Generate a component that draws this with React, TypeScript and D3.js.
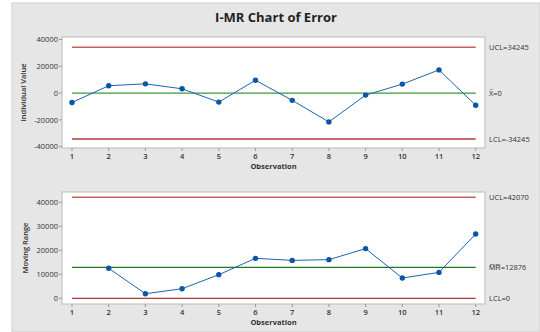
import React from 'react'
import * as d3 from 'd3'

const observations = [1, 2, 3, 4, 5, 6, 7, 8, 9, 10, 11, 12]
const individualValues = [-7000, 5500, 6900, 3200, -6700, 9600, -5400, -21500, -1500, 6700, 17300, -9100]
const movingRanges = [null, 12500, 1900, 4000, 9850, 16650, 15800, 16100, 20700, 8450, 10800, 26800]
const iTicks = [-40000, -20000, 0, 20000, 40000]
const mrTicks = [0, 10000, 20000, 30000, 40000]
const iLimits = { ucl: 34245, center: 0, lcl: -34245 }
const mrLimits = { ucl: 42070, center: 12876, lcl: 0 }

const W = 540
const H = 332
const left = 62
const right = 485
const font = "'Open Sans', sans-serif"

const x = d3.scaleLinear().domain([1, 12]).range([72, 475.7])

function Panel(props: any) {
  const { top, bottom, y, ticks, values, limits, yLabel, labels } = props
  const line = d3.line<any>()
    .defined((d) => d != null)
    .x((d, i) => x(observations[i]))
    .y((d) => y(d))
  return (
    <g>
      <rect x={left} y={top} width={right - left} height={bottom - top} fill="#fff" stroke="#c4c4c4" strokeWidth={1.2} />
      {ticks.map((t: number) => (
        <g key={t}>
          <line x1={left - 3} x2={left} y1={y(t)} y2={y(t)} stroke="#999" />
          <text x={left - 4} y={y(t)} dy="0.35em" textAnchor="end" fontSize={7.5} fontFamily={font} fill="#333">{t}</text>
        </g>
      ))}
      {observations.map((o) => (
        <g key={o}>
          <line x1={x(o)} x2={x(o)} y1={bottom} y2={bottom + 3} stroke="#999" />
          <text x={x(o)} y={bottom + 11} textAnchor="middle" fontSize={7.5} fontWeight={600} fontFamily={font} fill="#333">{o}</text>
        </g>
      ))}
      <line x1={x(1)} x2={x(12)} y1={y(limits.ucl)} y2={y(limits.ucl)} stroke="#c8605e" strokeWidth={1.5} />
      <line x1={x(1)} x2={x(12)} y1={y(limits.lcl)} y2={y(limits.lcl)} stroke="#b03a3a" strokeWidth={1.3} />
      <line x1={x(1)} x2={x(12)} y1={y(limits.center)} y2={y(limits.center)} stroke={props.centerColor} strokeWidth={1.3} />
      <path d={line(values) || ''} fill="none" stroke="#1f63b0" strokeWidth={1} />
      {values.map((v: any, i: number) => v == null ? null : (
        <circle key={i} cx={x(observations[i])} cy={y(v)} r={2.7} fill="#0a55a8" />
      ))}
      <text x={489} y={y(limits.ucl)} dy="0.35em" fontSize={7.5} fontFamily={font} fill="#333">{labels[0]}</text>
      <text x={489} y={y(limits.center)} dy="0.35em" fontSize={7.5} fontFamily={font} fill="#333">{labels[1]}</text>
      <text x={489} y={y(limits.lcl)} dy="0.35em" fontSize={7.5} fontFamily={font} fill="#333">{labels[2]}</text>
      <text transform={`translate(${props.yLabelX},${(top + bottom) / 2}) rotate(-90)`} textAnchor="middle" fontSize={7.5} fontWeight={600} fontFamily={font} fill="#333">{yLabel}</text>
      <text x={(left + right) / 2} y={bottom + 21} textAnchor="middle" fontSize={7.5} fontWeight={700} fontFamily={font} fill="#333">Observation</text>
    </g>
  )
}

export default function App() {
  const yI = d3.scaleLinear().domain([-40000, 40000]).range([146.7, 39.5])
  const yMR = d3.scaleLinear().domain([0, 40000]).range([298.3, 202.3])
  return (
    <svg width={W} height={H} style={{ position: 'absolute', left: 0, top: 0 }}>
      <rect x={0} y={0} width={W} height={H} fill="#fff" />
      <rect x={12} y={3} width={W - 12} height={H - 3} fill="#e6e6e6" stroke="#cfcfcf" />
      <text x={276} y={22} textAnchor="middle" fontSize={13} fontWeight={700} fontFamily={font} fill="#222">I-MR Chart of Error</text>
      <Panel top={37} bottom={148} y={yI} ticks={iTicks} values={individualValues} limits={iLimits}
        yLabel="Individual Value" yLabelX={26} centerColor="#3a9a3a"
        labels={['UCL=34245', 'X\u0304=0', 'LCL=-34245']} />
      <Panel top={192} bottom={304} y={yMR} ticks={mrTicks} values={movingRanges} limits={mrLimits}
        yLabel="Moving Range" yLabelX={28} centerColor="#1e7a1e"
        labels={['UCL=42070', 'M\u0305R\u0305=12876', 'LCL=0']} />
    </svg>
  )
}
